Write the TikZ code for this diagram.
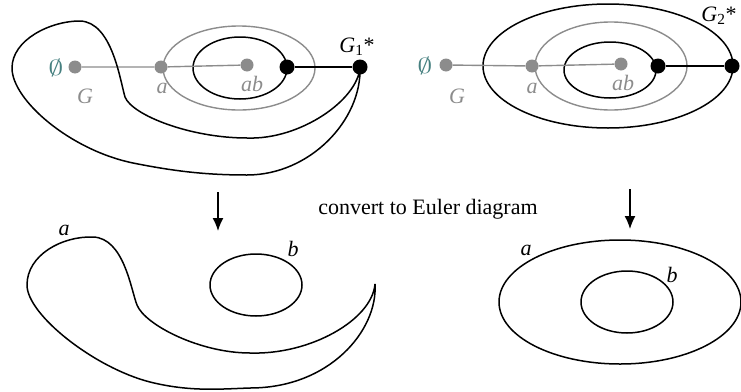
\documentclass[tikz,border=0pt]{standalone}
\usepackage{fontspec}
\setmainfont{Liberation Serif}
\usepackage{xcolor}
\usepackage{graphicx}
\usetikzlibrary{positioning, arrows.meta}

\definecolor{dotgray}{RGB}{140,140,140}
\definecolor{emptyteal}{RGB}{70,128,128}

\newcommand{\nullset}{\scalebox{1.45}[1.05]{$\emptyset$}}

\tikzset{
  gdot/.style={circle, fill=dotgray, inner sep=0pt, minimum size=13pt},
  bdot/.style={circle, fill=black, inner sep=0pt, minimum size=15pt},
  glab/.style={text=dotgray, font=\fontsize{22}{26}\selectfont\itshape, inner sep=0pt},
  blab/.style={font=\fontsize{22}{26}\selectfont\itshape, inner sep=0pt},
  elab/.style={text=emptyteal, font=\fontsize{22}{26}\selectfont, inner sep=0pt},
  curve/.style={line width=1.5pt, line join=round},
  gline/.style={line width=1.4pt, dotgray},
  downarrow/.style={line width=1.4pt, -{Latex[length=13pt, width=11pt]}},
}

\begin{document}
\begin{tikzpicture}[x=1pt, y=-1pt]
  \useasboundingbox (0,0) rectangle (741,391);

  % left hasse graph with G1*
  \draw[gline] (239,68) ellipse (76 and 42);
  \draw[curve] (240,68) ellipse (47 and 31);

  \node[gdot] (e1) at (75,67) {};
  \node[gdot] (a1) at (161,67) {};
  \node[gdot] (ab1) at (247,65) {};
  \node[bdot] (b1) at (287,67) {};
  \node[bdot] (g1) at (360,67) {};
  \draw[gline] (e1) -- (a1) -- (ab1);
  \draw[curve] (b1) -- (g1);

  \draw[curve] (g1.center) .. controls (358,100) and (300,140) .. (247,138)
    .. controls (190,138) and (132,115) .. (125,97)
    .. controls (120,80) and (112,22) .. (80,21)
    .. controls (50,21) and (12,40) .. (12,68)
    .. controls (12,100) and (70,150) .. (133,163)
    .. controls (173,171) and (205,175) .. (247,175)
    .. controls (310,175) and (362,120) .. (g1.center);

  \node[elab] (le1) at (56,68) {\nullset};
  \node[glab] (lG1) at (85,96) {G};
  \node[glab] (la1) at (162,88) {a};
  \node[glab] (lab1) at (252,84) {ab};
  \node[blab] (lg1) at (357,47) {G\textsubscript{\upshape 1}\upshape *};

  % right hasse graph with G2*
  \draw[curve] (608,66) ellipse (125 and 62);
  \draw[gline] (611,66) ellipse (76 and 44);
  \draw[curve] (610,70) ellipse (46 and 28);

  \node[gdot] (e2) at (446,65) {};
  \node[gdot] (a2) at (532,66) {};
  \node[gdot] (ab2) at (621,64) {};
  \node[bdot] (b2) at (658,66) {};
  \node[bdot] (g2) at (732,66) {};
  \draw[gline] (e2) -- (a2) -- (ab2);
  \draw[curve] (b2) -- (g2);

  \node[elab] (le2) at (425,66) {\nullset};
  \node[glab] (lG2) at (457,96) {G};
  \node[glab] (la2) at (532,88) {a};
  \node[glab] (lab2) at (623,83) {ab};
  \node[blab] (lg2) at (719,16) {G\textsubscript{\upshape 2}\upshape *};

  % conversion arrows
  \coordinate (s1) at (218,192);
  \coordinate (t1) at (218,231);
  \coordinate (s2) at (630,189);
  \coordinate (t2) at (630,229);
  \draw[downarrow] (s1) -- (t1);
  \draw[downarrow] (s2) -- (t2);
  \node[font=\fontsize{22}{26}\selectfont, inner sep=0pt] (conv) at (428,209) {convert to Euler diagram};

  % left euler diagram
  \coordinate (tip) at (375,284);
  \draw[curve] (tip) .. controls (372,320) and (310,355) .. (250,353)
    .. controls (200,353) and (145,325) .. (137,305)
    .. controls (131,290) and (124,238) .. (93,237)
    .. controls (62,236) and (27,255) .. (27,285)
    .. controls (27,315) and (95,368) .. (150,382)
    .. controls (190,392) and (220,389) .. (250,388)
    .. controls (330,388) and (378,330) .. (tip);
  \draw[curve] (256,285) ellipse (46 and 31);
  \node[blab] (ea1) at (64,230) {a};
  \node[blab] (eb1) at (293,249) {b};

  % right euler diagram
  \draw[curve] (620,302) ellipse (121 and 62);
  \draw[curve] (627,302) ellipse (46 and 31);
  \node[blab] (ea2) at (526,250) {a};
  \node[blab] (eb2) at (672,275) {b};
\end{tikzpicture}
\end{document}
